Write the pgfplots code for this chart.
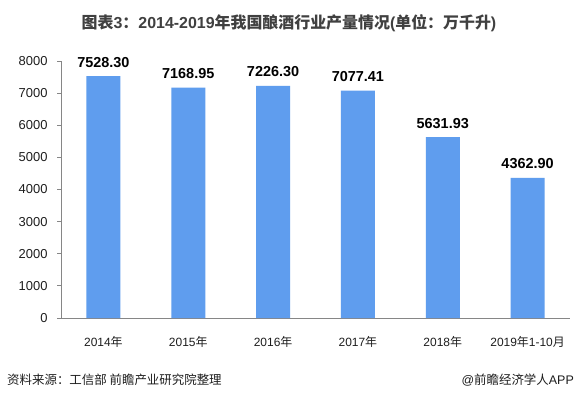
\documentclass[border=0pt]{standalone}
\usepackage{fontspec}
\setmainfont{Liberation Sans}
\newfontfamily\cjk{Noto Sans CJK SC}
\usepackage{pgfplots}
\pgfplotsset{compat=1.18}
\definecolor{barblue}{RGB}{95,157,238}
\definecolor{axisgray}{RGB}{134,134,134}
\definecolor{txt}{RGB}{30,30,30}
\definecolor{titlec}{RGB}{64,64,64}
\begin{document}
\begin{tikzpicture}[x=1bp,y=1bp]
\useasboundingbox[fill=white] (0,0) rectangle (576,394);
\begin{axis}[
  at={(61bp,76bp)}, anchor=south west,
  width=509bp, height=257bp, scale only axis,
  xmin=-0.5, xmax=5.5, ymin=0, ymax=8000,
  axis x line*=bottom, axis y line*=left,
  axis line style={draw=axisgray, line width=0.8bp},
  every tick/.style={draw=axisgray, line width=0.8bp},
  tick align=outside, major tick length=4bp,
  xtick={0,1,2,3,4,5},
  xticklabels={2014{\cjk 年},2015{\cjk 年},2016{\cjk 年},2017{\cjk 年},2018{\cjk 年},2019{\cjk 年}1-10{\cjk 月}},
  x tick style={draw=none},
  ytick={0,1000,...,8000},
  /pgf/number format/assume math mode=true,
  /pgf/number format/1000 sep={},
  yticklabel style={font=\fontsize{13}{13}\selectfont, text=txt, xshift=-6bp},
  xticklabel style={font=\fontsize{12}{12}\selectfont, text=txt, yshift=-11bp},
  ybar, bar width=34bp,
  point meta=explicit symbolic,
  nodes near coords,
  every node near coord/.append style={font=\fontsize{14.5}{14.5}\selectfont\bfseries, text=black, anchor=base, yshift=9bp},
  clip=false,
]
\addplot[fill=barblue, draw=none] coordinates {
  (0,7528.30) [7528.30]
  (1,7168.95) [7168.95]
  (2,7226.30) [7226.30]
  (3,7077.41) [7077.41]
  (4,5631.93) [5631.93]
  (5,4362.90) [4362.90]
};
\end{axis}
\node[font=\fontsize{16}{16}\selectfont\bfseries, text=titlec] at (289,371)
  {{\cjk 图表}3{\cjk ：}2014-2019{\cjk 年我国酿酒行业产量情况}({\cjk 单位：万千升})};
\node[anchor=west, font=\fontsize{12.5}{12.5}\selectfont\cjk, text=txt, inner sep=0] at (7,14)
  {资料来源：工信部 前瞻产业研究院整理};
\node[anchor=east, font=\fontsize{12.5}{12.5}\selectfont, text=txt, inner sep=0] at (574,14)
  {@{\cjk 前瞻经济学人}APP};
\end{tikzpicture}
\end{document}
